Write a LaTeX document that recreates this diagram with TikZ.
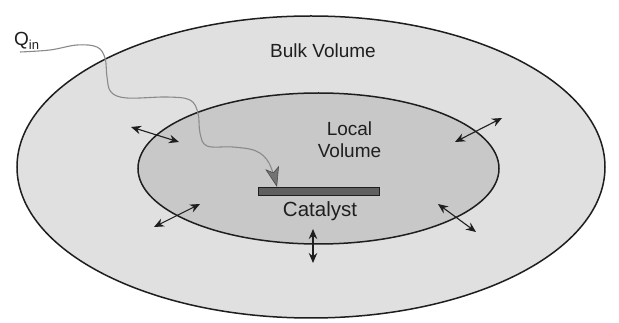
\documentclass[tikz,border=0pt]{standalone}
\usepackage{fontspec}
\setmainfont{Liberation Sans}
\usetikzlibrary{arrows.meta}
\definecolor{outerfill}{HTML}{E0E0E0}
\definecolor{innerfill}{HTML}{C8C8C8}
\definecolor{edge}{HTML}{1E1E1E}
\definecolor{catfill}{HTML}{606060}
\definecolor{wave}{HTML}{8A8A8A}
\tikzset{
  lbl/.style={font=\fontsize{19}{22}\selectfont, text=black!88, inner sep=0pt, anchor=base},
  dbl/.style={edge, line width=1.1pt, {Stealth[length=10pt,width=8.5pt]}-{Stealth[length=10pt,width=8.5pt]}},
}
\begin{document}
\begin{tikzpicture}[x=1pt,y=-1pt]
\useasboundingbox (0,0) rectangle (619,323);
\fill[white] (0,0) rectangle (619,323);
% outer and inner volumes
\draw[edge, line width=1.5pt, fill=outerfill] (311,167) ellipse [x radius=294, y radius=151];
\draw[edge, line width=1.5pt, fill=innerfill] (318.5,168.5) ellipse [x radius=180.5, y radius=75.5];
% catalyst bar
\draw[edge, line width=0.9pt, fill=catfill] (258,187.5) rectangle (379,195);
% labels
\node[lbl] (bulk) at (323,58) {Bulk Volume};
\node[lbl, align=center, anchor=south] (local) at (349.5,158) {Local\\Volume};
\node[lbl, font=\fontsize{20.5}{22}\selectfont] (cat) at (320,217) {Catalyst};
\node[lbl, anchor=base west] (qin) at (14,46) {Q\textsubscript{\fontsize{13}{13}\selectfont in}};
% heat path
\coordinate (w0) at (20,52);
\coordinate (tip) at (277,187);
\draw[wave, line width=1.1pt, -{Stealth[length=20pt,width=14pt,inset=5pt,color=black!70,fill=black!55,line width=0.6pt]}]
  plot[smooth, tension=0.6] coordinates {(20,52) (50,50) (77,45) (97,47) (105,58) (107,77) (111,92) (127,98) (167,97) (190,100) (198,113) (200,133) (207,146) (233,147) (256,151) (269,163) (277,187)};
% exchange arrows
\coordinate (a1) at (131,127); \coordinate (b1) at (179,142);
\coordinate (a2) at (154,227); \coordinate (b2) at (200,204);
\coordinate (a3) at (502,118); \coordinate (b3) at (455,142);
\coordinate (a4) at (438,204); \coordinate (b4) at (476,232);
\coordinate (a5) at (313,229); \coordinate (b5) at (313,263);
\draw[dbl] (a1) -- (b1);
\draw[dbl] (a2) -- (b2);
\draw[dbl] (a3) -- (b3);
\draw[dbl] (a4) -- (b4);
\draw[dbl] (a5) -- (b5);
\end{tikzpicture}
\end{document}
